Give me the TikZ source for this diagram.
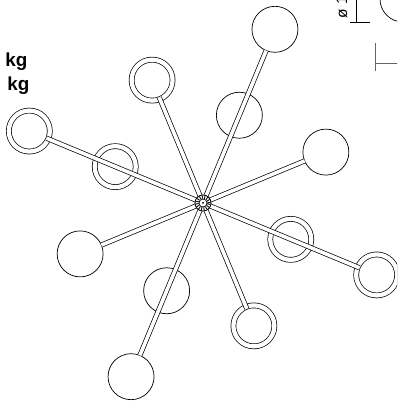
\documentclass[tikz,border=0pt]{standalone}
\usepackage{fontspec}
\setmainfont{Liberation Sans}
\tikzset{
  globe/.style={circle,draw,fill=white,line width=0.5pt,minimum size=1.15cm,inner sep=0pt,outer sep=0pt},
  ringglobe/.style={circle,draw,fill=white,line width=0.5pt,double,double distance=0.107cm,minimum size=1.025cm,inner sep=0pt,outer sep=0pt},
  rod/.style={line width=0.5pt,double,double distance=0.09cm},
  ringrod/.style={rod,shorten >=-0.05cm},
  mass/.style={font=\bfseries\fontsize{13.4}{14}\selectfont,inner sep=0pt},
  tick/.style={line width=0.7pt}
}
\begin{document}
\begin{tikzpicture}
      \useasboundingbox (-5.075,-4.95) rectangle (4.85,5.075);
      \clip (-5.075,-4.95) rectangle (4.85,5.075);
      \draw
        (0,0) coordinate (hubc)
        (67.5:4.7) node[globe] (g1){}
        (67.5:2.375) node[globe] (g2){}
        (22.5:3.325) node[globe] (g3){}
        (112.5:3.325) node[ringglobe] (r1){}
        (157.5:4.7) node[ringglobe] (r2){}
        (157.5:2.375) node[ringglobe] (r3){}
        (202.5:3.325) node[globe] (g4){}
        (247.5:2.375) node[globe] (g5){}
        (247.5:4.7) node[globe] (g6){}
        (292.5:3.325) node[ringglobe] (r4){}
        (337.5:2.375) node[ringglobe] (r5){}
        (337.5:4.7) node[ringglobe] (r6){};
      \draw[rod] (hubc) to (g1);
      \draw[rod] (hubc) to (g3);
      \draw[ringrod] (hubc) to (r1);
      \draw[ringrod] (hubc) to (r2);
      \draw[rod] (hubc) to (g4);
      \draw[rod] (hubc) to (g6);
      \draw[ringrod] (hubc) to (r4);
      \draw[ringrod] (hubc) to (r6);
      \node[circle,draw,fill=white,line width=0.6pt,minimum size=0.4cm,inner sep=0pt] (hub) at (hubc) {};
      \node[circle,draw,dash pattern=on 0.6pt off 1.1pt,line width=2.2pt,minimum size=0.3cm,inner sep=0pt] (hubteeth) at (hubc) {};
      \node[circle,draw,fill=white,line width=0.5pt,minimum size=0.2cm,inner sep=0pt] (hubring) at (hubc) {};
      \node[circle,fill=black,minimum size=0.05cm,inner sep=0pt] (hubpin) at (hubc) {};
      \node[mass,anchor=base west] (kg1) at (-4.95,3.4) {kg};
      \node[mass,anchor=base west] (kg2) at (-4.9,2.8) {kg};
      \node[font=\fontsize{11}{12}\selectfont,rotate=90,anchor=base west,inner sep=0pt] (dia) at (3.6,4.6) {ø 1};
      \node[globe] (cut) at (5,5.1) {};
      \coordinate (t1a) at (3.825,5.1);
      \coordinate (t1b) at (3.825,4.525);
      \coordinate (t1c) at (3.675,4.525);
      \coordinate (t1d) at (4.175,4.525);
      \coordinate (t2a) at (4.3125,4.0);
      \coordinate (t2b) at (4.3125,3.3);
      \coordinate (t2c) at (4.3125,3.5);
      \coordinate (t2d) at (4.9,3.5);
      \draw[tick] (t1a) to (t1b);
      \draw[tick] (t1c) to (t1d);
      \draw[tick,black!60] (t2a) to (t2b);
      \draw[tick,black!60] (t2c) to (t2d);
    \end{tikzpicture}
\end{document}
